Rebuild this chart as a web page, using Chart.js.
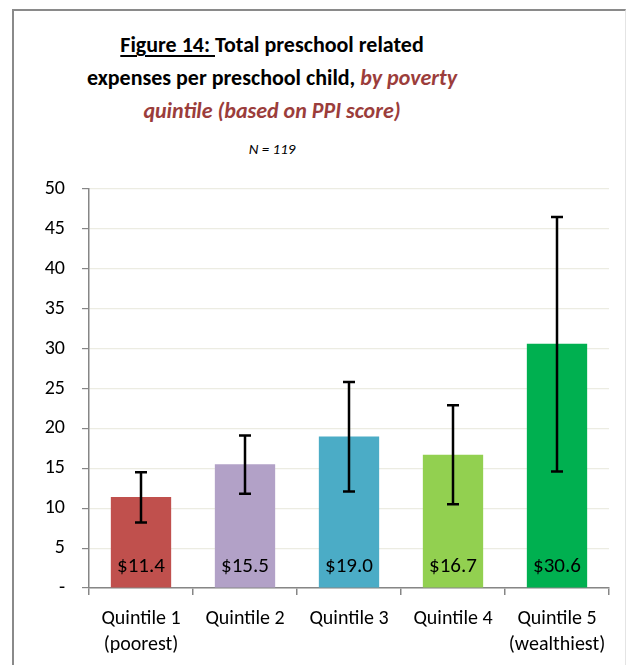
<!DOCTYPE html>
<html>
<head>
<meta charset="utf-8">
<script src="https://cdn.jsdelivr.net/npm/chart.js@4/dist/chart.umd.min.js"></script>
<style>
  body { margin: 0; background: #fff; }
  #frame {
    position: absolute; left: 12px; top: 9px; width: 611px; height: 680px;
    border-left: 2px solid #8a8a8a; border-top: 2px solid #8a8a8a;
    border-right: 1px solid #e4e4e4;
  }
  #title {
    position: absolute; left: 0; top: 28px; width: 544px; text-align: center;
    font-family: Carlito, Lato, sans-serif; font-weight: bold; font-size: 22px;
    line-height: 33px; color: #000;
  }
  #title u { text-decoration-thickness: 2px; text-underline-offset: 3px; }
  #title .red { color: #9b3d3b; font-style: italic; }
  #sub {
    position: absolute; left: 0; top: 140px; width: 544px; text-align: center;
    font-family: Carlito, Lato, sans-serif; font-style: italic; font-size: 15px; color: #000;
  }
  #chart { position: absolute; left: 0; top: 0; }
</style>
</head>
<body>
<div id="frame"></div>
<div id="title"><u>Figure 14:&nbsp;</u>Total preschool related<br>expenses per preschool child, <span class="red">by poverty<br>quintile (based on PPI score)</span></div>
<div id="sub">N = 119</div>
<canvas id="chart" width="626" height="665"></canvas>
<script>
// values
const quintiles = [['Quintile 1', '(poorest)'], 'Quintile 2', 'Quintile 3', 'Quintile 4', ['Quintile 5', '(wealthiest)']];
const expenses = [11.4, 15.5, 19.0, 16.7, 30.6];
const errLow = [8.2, 11.8, 12.1, 10.5, 14.6];
const errHigh = [14.5, 19.1, 25.8, 22.9, 46.5];
const barColors = ['#C0504D', '#B2A1C7', '#4BACC6', '#92D050', '#00B050'];

const FONT = 'Carlito, Lato, sans-serif';
const AXIS_GRAY = '#868686';

// error bars + value labels inside bars
const barExtras = {
  id: 'barExtras',
  afterDatasetsDraw(chart) {
    const { ctx, scales: { y } } = chart;
    const meta = chart.getDatasetMeta(0);
    ctx.save();
    ctx.strokeStyle = '#000';
    ctx.lineWidth = 2.5;
    meta.data.forEach((bar, i) => {
      const yl = y.getPixelForValue(errLow[i]);
      const yh = y.getPixelForValue(errHigh[i]);
      ctx.beginPath();
      ctx.moveTo(bar.x, yl); ctx.lineTo(bar.x, yh);
      ctx.moveTo(bar.x - 6, yl); ctx.lineTo(bar.x + 6, yl);
      ctx.moveTo(bar.x - 6, yh); ctx.lineTo(bar.x + 6, yh);
      ctx.stroke();
    });
    ctx.fillStyle = '#000';
    ctx.font = '21px ' + FONT;
    ctx.textAlign = 'center';
    ctx.textBaseline = 'middle';
    const base = y.getPixelForValue(0);
    meta.data.forEach((bar, i) => {
      ctx.fillText('$' + expenses[i].toFixed(1), bar.x, base - 21);
    });
    ctx.restore();
  }
};

new Chart(document.getElementById('chart'), {
  type: 'bar',
  data: {
    labels: quintiles,
    datasets: [{
      data: expenses,
      backgroundColor: barColors,
      borderWidth: 0,
      categoryPercentage: 1,
      barPercentage: 0.58
    }]
  },
  options: {
    responsive: false,
    animation: false,
    layout: { padding: { top: 189, right: 17, left: 0, bottom: 0 } },
    plugins: { legend: { display: false }, tooltip: { enabled: false } },
    scales: {
      x: {
        afterFit(axis) { axis.height = 77; },
        grid: { drawOnChartArea: false, tickColor: AXIS_GRAY, tickLength: 7, lineWidth: 1.5 },
        border: { color: AXIS_GRAY, width: 1.5 },
        ticks: { color: '#000', font: { family: FONT, size: 20, lineHeight: 1.3 }, padding: 11, maxRotation: 0, autoSkip: false }
      },
      y: {
        min: 0, max: 50,
        afterFit(axis) { axis.width = 89; },
        grid: { color: '#ecece2', tickColor: AXIS_GRAY, tickLength: 7, lineWidth: 1.2 },
        border: { color: AXIS_GRAY, width: 1.5 },
        ticks: {
          stepSize: 5, color: '#000', padding: 17,
          font: { family: FONT, size: 20 },
          callback: v => v === 0 ? '-' : v
        }
      }
    }
  },
  plugins: [barExtras]
});
</script>
</body>
</html>
